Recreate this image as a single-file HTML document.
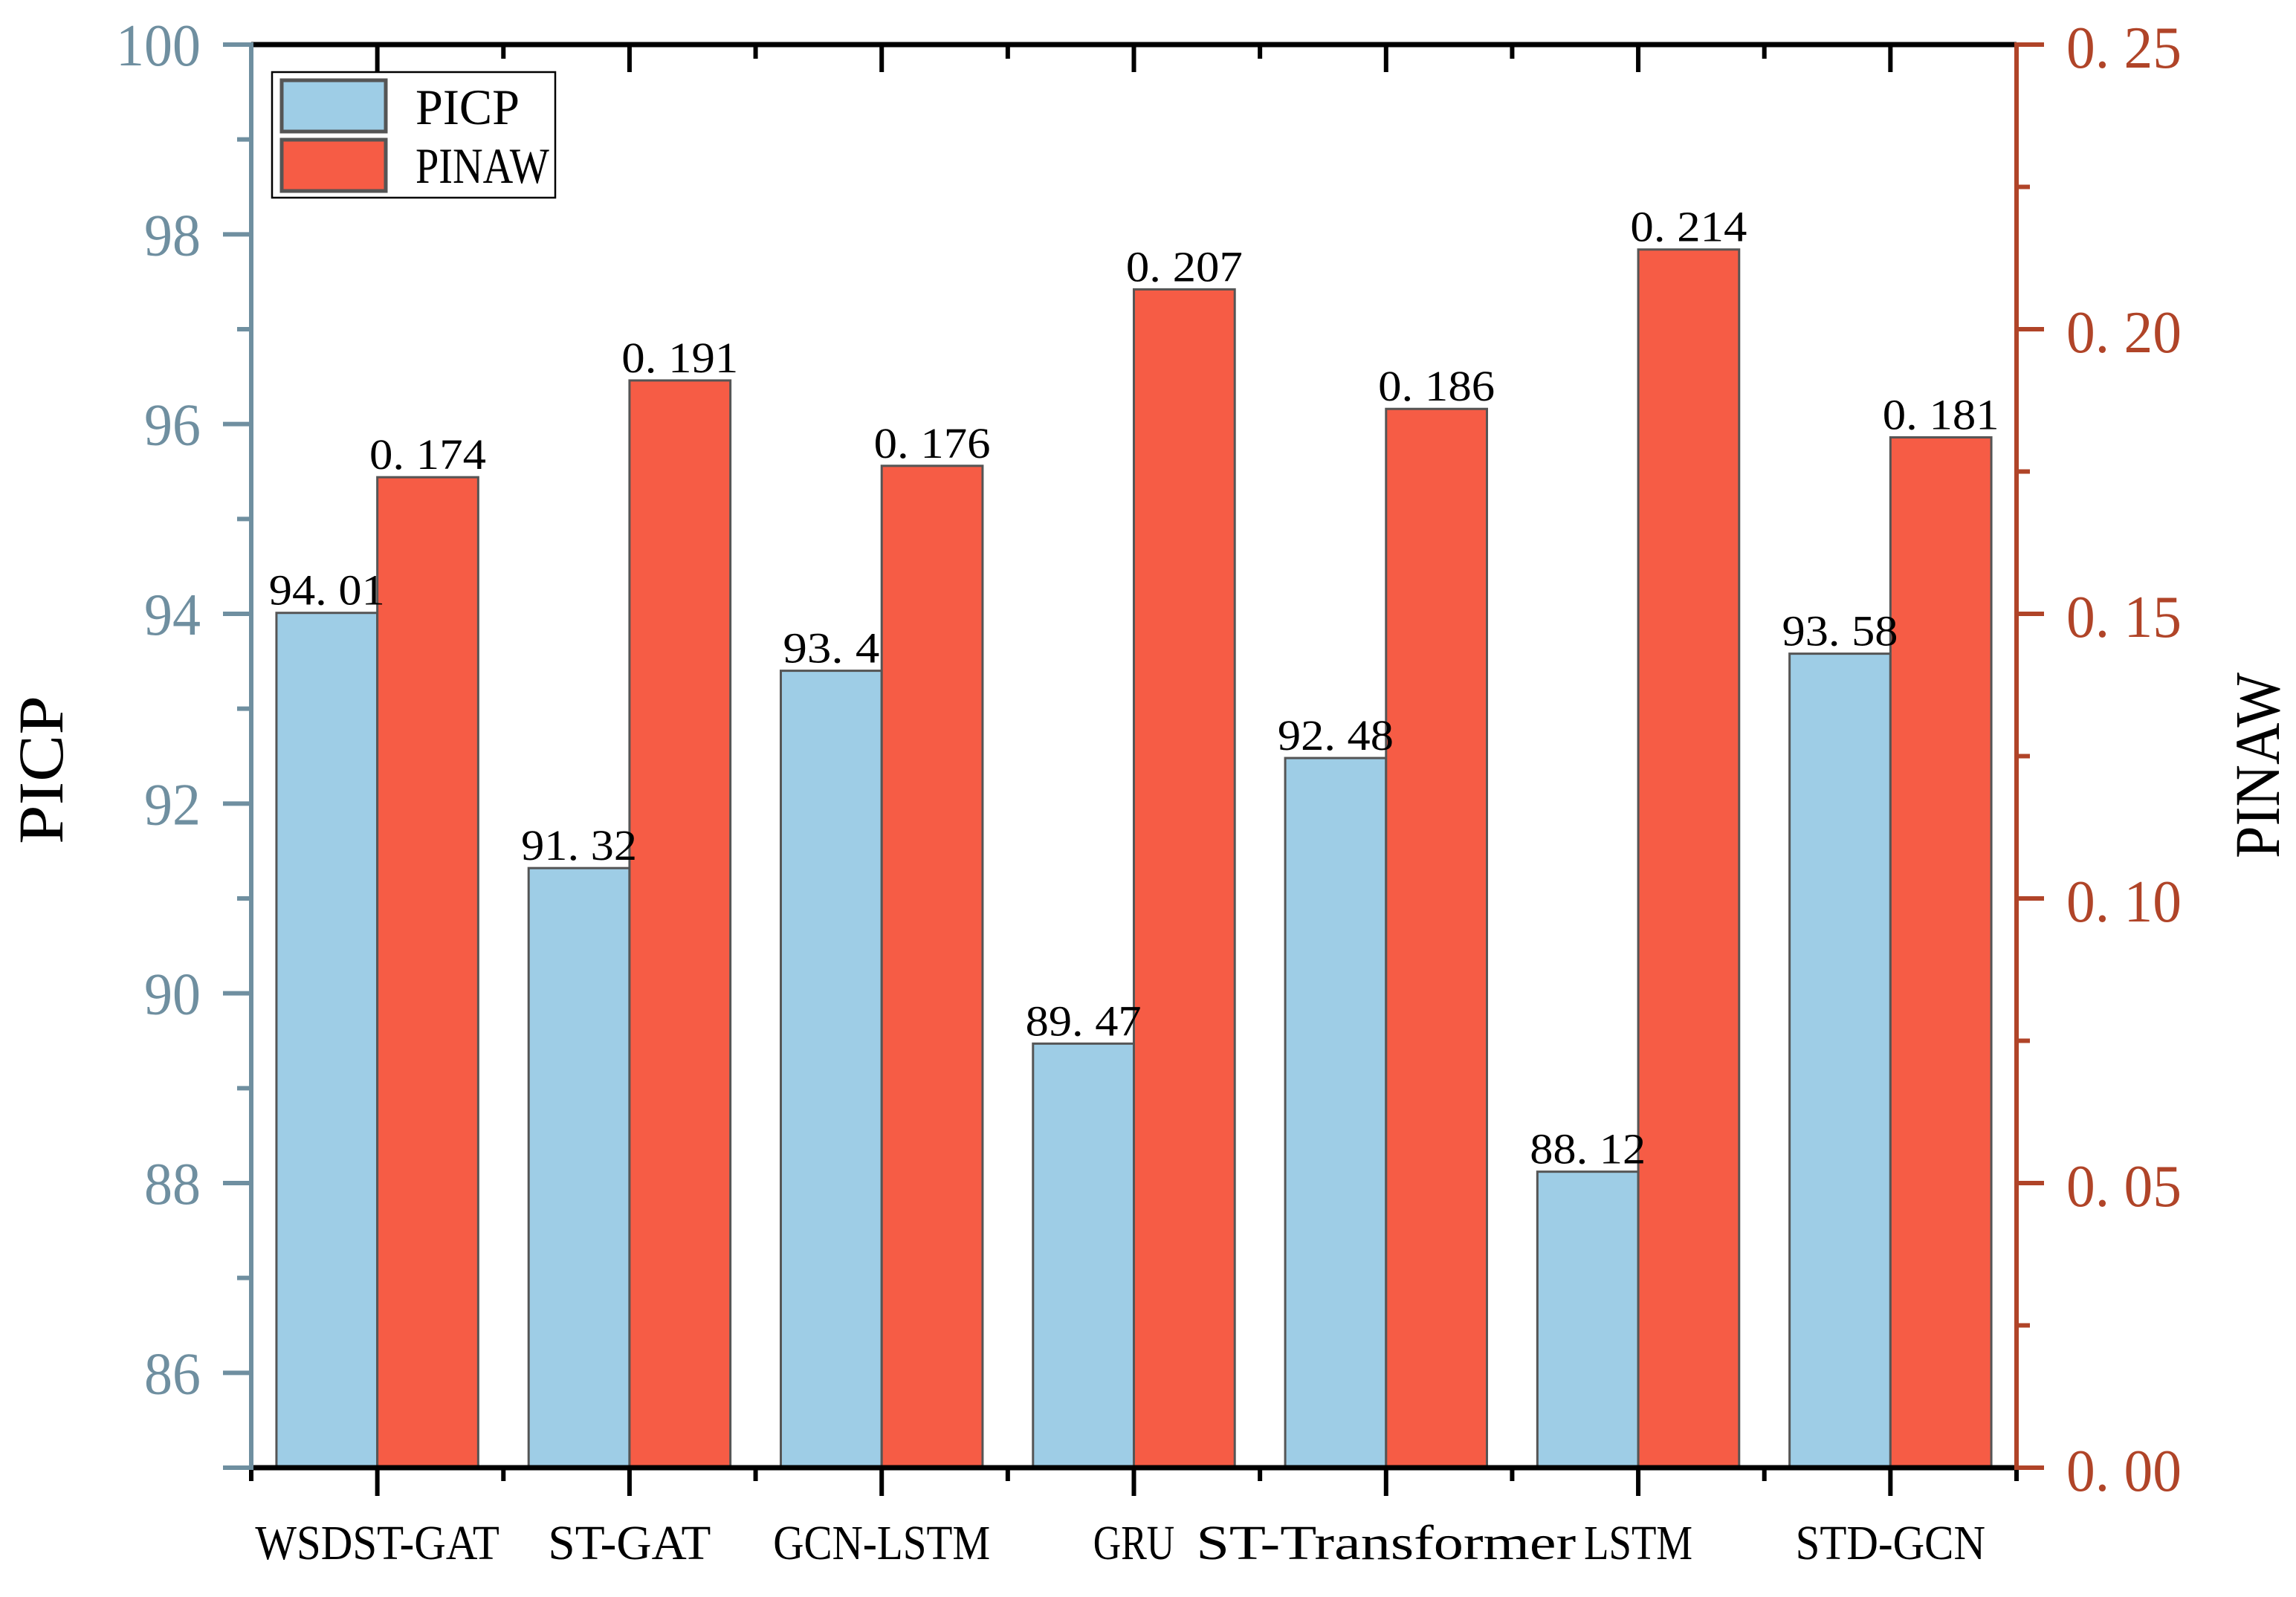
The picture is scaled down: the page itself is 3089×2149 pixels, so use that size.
<!DOCTYPE html>
<html><head><meta charset="utf-8"><style>
html,body{margin:0;padding:0;background:#fff;}
svg{display:block;font-family:"Liberation Serif","Noto Serif CJK SC",serif;}
</style></head><body>
<svg id="chart" width="3089" height="2149" viewBox="0 0 3089 2149" xmlns="http://www.w3.org/2000/svg">
<g id="bars"></g>
<g id="axes"></g>
<g id="labels"></g>
<text transform="translate(84,1036) rotate(-90)" text-anchor="middle" font-size="86" textLength="200" lengthAdjust="spacingAndGlyphs">PICP</text>
<text transform="translate(3066,1030) rotate(-90)" text-anchor="middle" font-size="86" textLength="250" lengthAdjust="spacingAndGlyphs">PINAW</text>
<g>
<rect x="366" y="97" width="381" height="169" fill="#fff" stroke="#000" stroke-width="2.5"/>
<rect x="379" y="108" width="140" height="69" fill="#9ecde6" stroke="#555" stroke-width="5"/>
<rect x="379" y="188" width="140" height="69" fill="#f65c45" stroke="#555" stroke-width="5"/>
<text class="fit" data-w="140" x="559" y="167" font-size="68">PICP</text>
<text class="fit" data-w="180" x="559" y="246" font-size="68">PINAW</text>
</g>
</svg>
<script>
const categories = ["WSDST-GAT","ST-GAT","GCN-LSTM","GRU","ST-Transformer","LSTM","STD-GCN"];
const picpValues = [94.01,91.32,93.4,89.47,92.48,88.12,93.58];
const pinawValues = [0.174,0.191,0.176,0.207,0.186,0.214,0.181];
const picpLabels = ["94. 01","91. 32","93. 4","89. 47","92. 48","88. 12","93. 58"];
const pinawLabels = ["0. 174","0. 191","0. 176","0. 207","0. 186","0. 214","0. 181"];
const leftTicks = [86,88,90,92,94,96,98,100];
const rightTicks = ["0. 00","0. 05","0. 10","0. 15","0. 20","0. 25"];
const rightTickValues = [0,0.05,0.1,0.15,0.2,0.25];

const NS="http://www.w3.org/2000/svg";
const L=338,R=2713,T=60,B=1975;
const step=(R-L)/categories.length;
const xc=i=>L+step*(i+0.5);
const yL=v=>B-(v-85)/(100-85)*(B-T);
const yR=v=>B-v/0.25*(B-T);
const bw=step*0.4;
const blueAx="#6f8fa0", redAx="#b04428";
function mk(tag,attrs,parent,text){const e=document.createElementNS(NS,tag);for(const k in attrs)e.setAttribute(k,attrs[k]);if(text!==undefined)e.textContent=text;parent.appendChild(e);return e;}
function fit(t,w){
  const cur=t.getComputedTextLength();
  if(!cur)return;
  const s=w/cur;
  const x=parseFloat(t.getAttribute('x')),y=parseFloat(t.getAttribute('y'));
  t.setAttribute('transform',`translate(${x},${y}) scale(${s},1) translate(${-x},${-y})`);
}
const gb=document.getElementById('bars'),ga=document.getElementById('axes'),gl=document.getElementById('labels');
categories.forEach((c,i)=>{
  const x=xc(i);
  const y1=yL(picpValues[i]);
  const b1=mk('rect',{x:x-bw,y:y1,width:bw,height:B-y1,fill:'#9ecde6',stroke:'#555','stroke-width':3},gb);
  
  
  const y2=yR(pinawValues[i]);
  const b2=mk('rect',{x:x,y:y2,width:bw,height:B-y2,fill:'#f65c45',stroke:'#555','stroke-width':3},gb);
  
  
  const t1=mk('text',{x:x-bw/2,y:y1-11,'text-anchor':'middle','font-size':58},gl,picpLabels[i]);
  
  
  fit(t1,picpLabels[i].length*26);
  const t2=mk('text',{x:x+bw/2,y:y2-11,'text-anchor':'middle','font-size':58},gl,pinawLabels[i]);
  
  
  fit(t2,157);
  const ct=mk('text',{x:x,y:2098,'text-anchor':'middle','font-size':66},ga,c);
  
  
  fit(ct,c.length*36.5);
  mk('line',{x1:x,y1:B,x2:x,y2:2013,stroke:'#000','stroke-width':6},ga);
  mk('line',{x1:x,y1:T,x2:x,y2:97,stroke:'#000','stroke-width':6},ga);
});
for(let i=0;i<=categories.length;i++){
  const x=L+step*i;
  mk('line',{x1:x,y1:B,x2:x,y2:1993,stroke:'#000','stroke-width':6},ga);
  mk('line',{x1:x,y1:T,x2:x,y2:79,stroke:'#000','stroke-width':6},ga);
}
mk('line',{x1:L,y1:B,x2:R,y2:B,stroke:'#000','stroke-width':7},ga);
mk('line',{x1:L,y1:T,x2:R,y2:T,stroke:'#000','stroke-width':7},ga);
mk('line',{x1:L,y1:T-3,x2:L,y2:B+3,stroke:blueAx,'stroke-width':6},ga);
for(let v=85;v<=100;v++){
  const y=yL(v);
  const major=leftTicks.includes(v)||v===85;
  mk('line',{x1:L,y1:y,x2:major?300:319,y2:y,stroke:blueAx,'stroke-width':6},ga);
}
leftTicks.forEach(v=>{
  const s=String(v);
  const t=mk('text',{x:270,y:yL(v)+28,'text-anchor':'end','font-size':80,fill:blueAx},ga,s);
  
  
  fit(t,s.length*38);
});
mk('line',{x1:R,y1:T-3,x2:R,y2:B+3,stroke:redAx,'stroke-width':6},ga);
for(let k=0;k<=10;k++){
  const y=yR(k*0.025);
  mk('line',{x1:R,y1:y,x2:k%2===0?2750:2731,y2:y,stroke:redAx,'stroke-width':6},ga);
}
rightTicks.forEach((s,i)=>{
  const t=mk('text',{x:2780,y:yR(rightTickValues[i])+31,'font-size':80,fill:redAx},ga,s);
  
  
  fit(t,155);
});
document.querySelectorAll('text.fit').forEach(t=>fit(t,parseFloat(t.getAttribute('data-w'))));
</script>
</body></html>
